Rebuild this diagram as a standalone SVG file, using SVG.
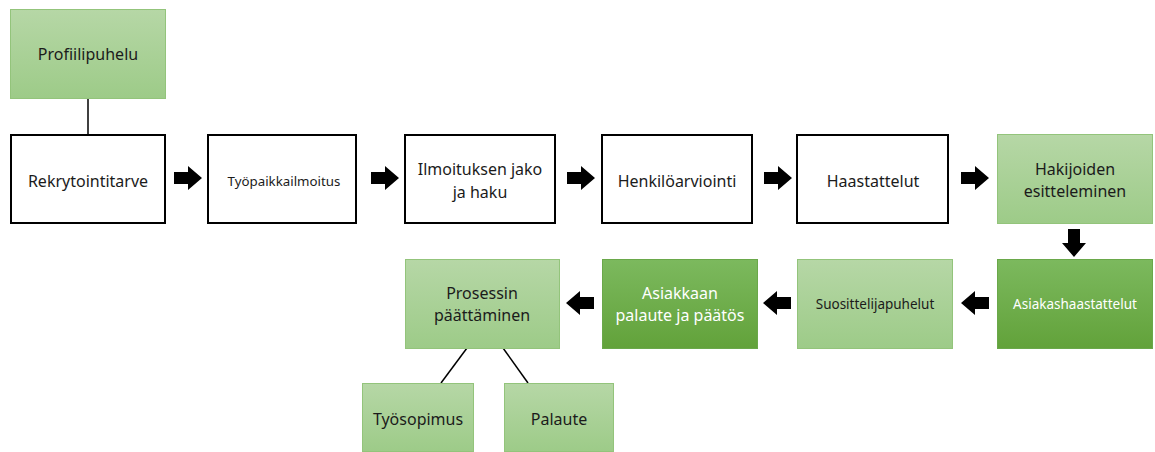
<svg xmlns="http://www.w3.org/2000/svg" width="1155" height="452" viewBox="0 0 1155 452">
<defs>
<linearGradient id="gLight" x1="0" y1="0" x2="0" y2="1">
<stop offset="0" stop-color="#b6d7a6"/>
<stop offset="1" stop-color="#9dcb88"/>
</linearGradient>
<linearGradient id="gDark" x1="0" y1="0" x2="0" y2="1">
<stop offset="0" stop-color="#7cb95e"/>
<stop offset="1" stop-color="#62a23a"/>
</linearGradient>
<path id="arrR" d="M0,6 H14 V0 L28,12 L14,24 V18 H0 Z" fill="#000"/>
</defs>
<style>
.w{fill:#fff;stroke:#000;stroke-width:2}
.l{fill:url(#gLight);stroke:#93c47b;stroke-width:1}
.d{fill:url(#gDark);stroke:#6aa84a;stroke-width:1}
text{font-family:"Noto Sans","Open Sans",sans-serif;text-anchor:middle;dominant-baseline:central;fill:#1b1b1b}
.b{font-size:16px}
.s{font-size:13.3px}
.m{font-size:13.5px}
.wt{fill:#fff}
.c{stroke:#000;stroke-width:1.5;fill:none}
</style>
<g id="connectors">
<line class="c" x1="88" y1="98" x2="88" y2="134"/>
<line class="c" x1="467" y1="348" x2="441" y2="383"/>
<line class="c" x1="503" y1="348" x2="528" y2="383"/>
<use href="#arrR" x="174" y="166"/>
<use href="#arrR" x="371" y="166"/>
<use href="#arrR" x="567" y="166"/>
<use href="#arrR" x="764" y="166"/>
<use href="#arrR" x="961" y="166"/>
<use href="#arrR" transform="translate(1086,229) rotate(90)"/>
<use href="#arrR" transform="translate(989,315) rotate(180)"/>
<use href="#arrR" transform="translate(791,315) rotate(180)"/>
<use href="#arrR" transform="translate(594,315) rotate(180)"/>
</g>
<g id="n-profiilipuhelu"><rect class="l" x="10.5" y="9.5" width="155" height="89"/><text class="b" x="88" y="54">Profiilipuhelu</text></g>
<g id="n-rekrytointitarve"><rect class="w" x="11" y="135" width="154" height="88"/><text class="b" x="88" y="181">Rekrytointitarve</text></g>
<g id="n-tyopaikkailmoitus"><rect class="w" x="208" y="135" width="148" height="88"/><text class="s" x="284" y="181">Työpaikkailmoitus</text></g>
<g id="n-ilmoituksen"><rect class="w" x="405" y="135" width="150" height="88"/><text class="b" x="480" y="169">Ilmoituksen jako</text><text class="b" x="480" y="192">ja haku</text></g>
<g id="n-henkiloarviointi"><rect class="w" x="602" y="135" width="150" height="88"/><text class="b" x="677" y="181">Henkilöarviointi</text></g>
<g id="n-haastattelut"><rect class="w" x="797" y="135" width="151" height="88"/><text class="b" x="873" y="181">Haastattelut</text></g>
<g id="n-hakijoiden"><rect class="l" x="997.5" y="134.5" width="155" height="89"/><text class="b" x="1075" y="169">Hakijoiden</text><text class="b" x="1075" y="191">esitteleminen</text></g>
<g id="n-asiakashaastattelut"><rect class="d" x="997.5" y="259.5" width="155" height="89"/><text class="m wt" x="1075" y="304">Asiakashaastattelut</text></g>
<g id="n-suosittelijapuhelut"><rect class="l" x="797.5" y="259.5" width="155" height="89"/><text class="m" x="875" y="304">Suosittelijapuhelut</text></g>
<g id="n-asiakkaan"><rect class="d" x="602.5" y="259.5" width="155" height="89"/><text class="b wt" x="680" y="293">Asiakkaan</text><text class="b wt" x="680" y="315">palaute ja päätös</text></g>
<g id="n-prosessin"><rect class="l" x="405.5" y="259.5" width="154" height="89"/><text class="b" x="482" y="293">Prosessin</text><text class="b" x="482" y="315">päättäminen</text></g>
<g id="n-tyosopimus"><rect class="l" x="362.5" y="383.5" width="111" height="68"/><text class="b" x="418" y="419">Työsopimus</text></g>
<g id="n-palaute"><rect class="l" x="504.5" y="383.5" width="109" height="68"/><text class="b" x="559" y="419">Palaute</text></g>
</svg>
